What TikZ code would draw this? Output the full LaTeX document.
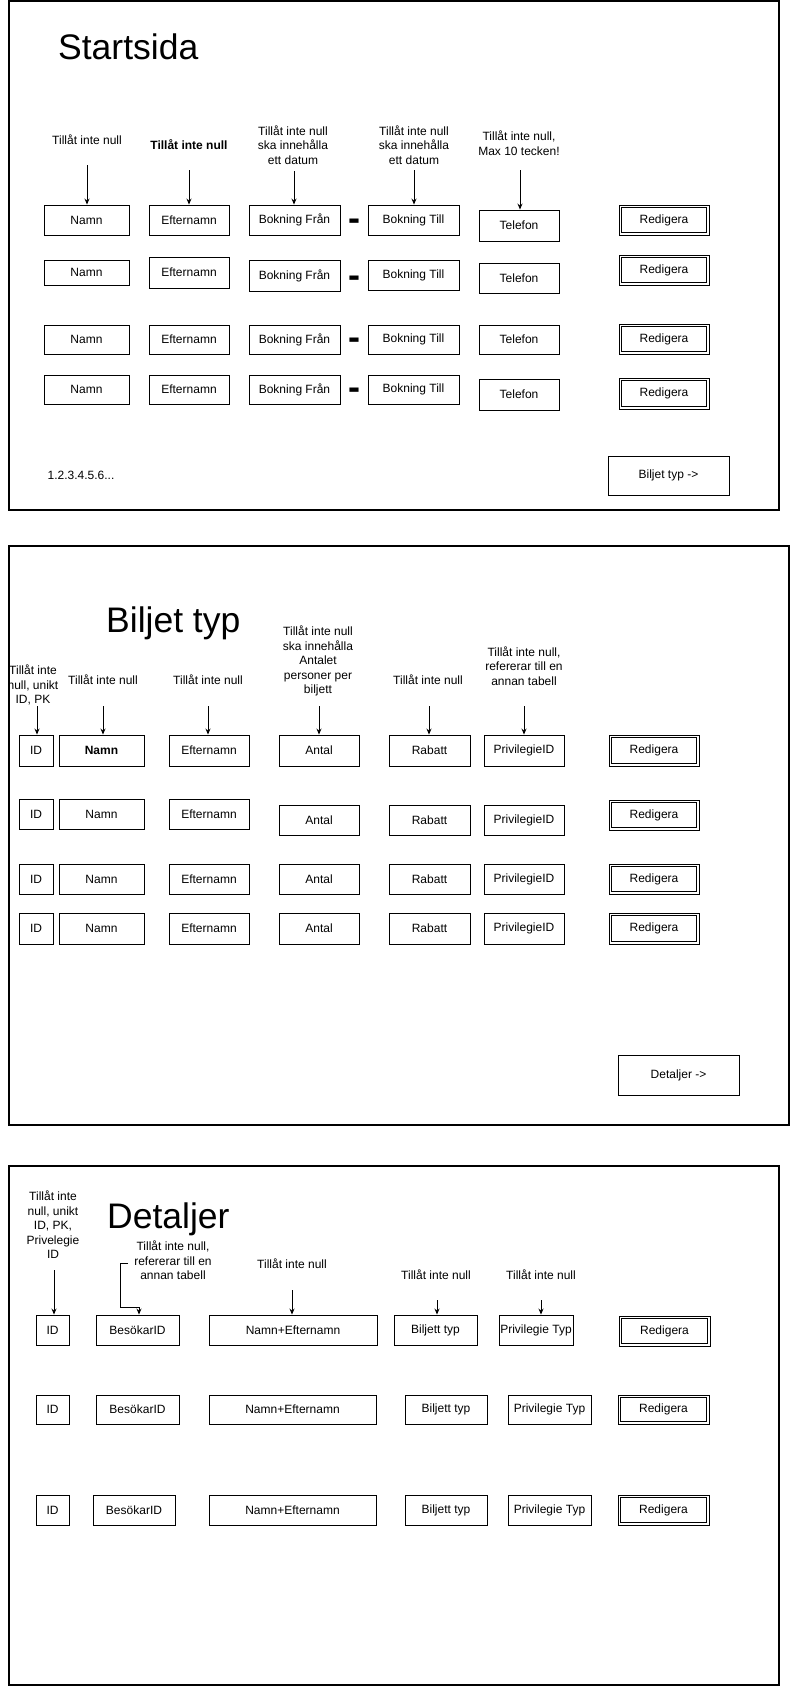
\documentclass[tikz,border=0pt]{standalone}
\usepackage{fontspec}
\setmainfont{Liberation Sans}
\usetikzlibrary{arrows.meta}
\newcommand\fs{\fontsize{12}{14.5}\selectfont}
\newcommand\mkbox[7][fld]{\node[#1, minimum width={(#5)-(#3)}, minimum height={(#6)-(#4)}] (#2) at ({((#3)+(#5))/2},{((#4)+(#6))/2}) {#7};}
\newcommand\mkbtn[6]{\mkbox[btn]{#1}{#2}{#3}{#4}{#5}{#6}%
  \node[innerbox, minimum width={(#4)-(#2)-4.4}, minimum height={(#5)-(#3)-4.4}] (#1i) at (#1.center) {};}
\tikzset{
  frame/.style={draw, line width=1.2pt},
  fld/.style={draw, line width=0.9pt, inner sep=0pt, font=\fs},
  btn/.style={draw, line width=0.8pt, inner sep=0pt, font=\fs},
  innerbox/.style={draw, line width=0.8pt, inner sep=0pt},
  lbl/.style={align=center, font=\fs, inner sep=0pt},
  ttl/.style={font=\fontsize{35.5}{40}\selectfont, anchor=base west, inner sep=0pt},
  arr/.style={-{Stealth[length=6pt,width=5pt]}, line width=0.9pt},
  sepdash/.style={font=\fontsize{36}{40}\selectfont\bfseries, inner sep=0pt}
}
\begin{document}
\begin{tikzpicture}[x=1pt,y=-1pt]
\useasboundingbox (0,0) rectangle (791,1689);
% ---------------- Frame 1 ----------------
\draw[frame] (9,1) rectangle (779,510);
\node[ttl] (t1) at (58,59) {Startsida};
\node[lbl] (l11) at (87,140) {Tillåt inte null};
\node[lbl] (l12) at (189,145) {\bfseries Tillåt inte null};
\node[lbl] (l13) at (293,145) {Tillåt inte null\\ska innehålla\\ett datum};
\node[lbl] (l14) at (414,145) {Tillåt inte null\\ska innehålla\\ett datum};
\node[lbl] (l15) at (519,143) {Tillåt inte null,\\Max 10 tecken!};
% row 1
\mkbox{a1}{44}{205}{129}{235}{Namn}
\mkbox{b1}{149}{205}{229}{235}{Efternamn}
\mkbox{c1}{249}{205}{340}{235}{Bokning Från}
\mkbox{d1}{368}{205}{459}{235}{Bokning Till}
\mkbox{e1}{479}{210}{559}{241}{Telefon}
\mkbtn{r1}{619}{205}{709}{235}{Redigera}
% row 2
\mkbox{a2}{44}{260}{129}{285}{Namn}
\mkbox{b2}{149}{257}{229}{288}{Efternamn}
\mkbox{c2}{249}{260}{340}{291}{Bokning Från}
\mkbox{d2}{368}{260}{459}{290}{Bokning Till}
\mkbox{e2}{479}{263}{559}{293}{Telefon}
\mkbtn{r2}{619}{255}{709}{285}{Redigera}
% row 3
\mkbox{a3}{44}{325}{129}{354}{Namn}
\mkbox{b3}{149}{325}{229}{354}{Efternamn}
\mkbox{c3}{249}{325}{340}{354}{Bokning Från}
\mkbox{d3}{368}{325}{459}{354}{Bokning Till}
\mkbox{e3}{479}{325}{559}{354}{Telefon}
\mkbtn{r3}{619}{324}{709}{354}{Redigera}
% row 4
\mkbox{a4}{44}{375}{129}{404}{Namn}
\mkbox{b4}{149}{375}{229}{404}{Efternamn}
\mkbox{c4}{249}{375}{340}{404}{Bokning Från}
\mkbox{d4}{368}{375}{459}{404}{Bokning Till}
\mkbox{e4}{479}{379}{559}{410}{Telefon}
\mkbtn{r4}{619}{378}{709}{409}{Redigera}
% dashes
\node[sepdash] (s1) at (354,224.4) {-};
\node[sepdash] (s2) at (354,281.4) {-};
\node[sepdash] (s3) at (354,343.4) {-};
\node[sepdash] (s4) at (354,393.4) {-};
% arrows
\coordinate (p11) at (87,165);
\coordinate (p12) at (189,170);
\coordinate (p13) at (294,171);
\coordinate (p14) at (414,170);
\coordinate (p15) at (520,170);
\draw[arr] (p11) -- (p11 |- a1.north);
\draw[arr] (p12) -- (p12 |- b1.north);
\draw[arr] (p13) -- (p13 |- c1.north);
\draw[arr] (p14) -- (p14 |- d1.north);
\draw[arr] (p15) -- (p15 |- e1.north);
\node[lbl] (pg) at (81,475) {1.2.3.4.5.6...};
\mkbox{nx1}{608}{456}{729}{495}{Biljet typ ->}
% ---------------- Frame 2 ----------------
\draw[frame] (9,546) rectangle (789,1125);
\node[ttl] (t2) at (106,632) {Biljet typ};
\node[lbl] (l21) at (33,685) {Tillåt inte\\null, unikt\\ID, PK};
\node[lbl] (l22) at (103,680) {Tillåt inte null};
\node[lbl] (l23) at (208,680) {Tillåt inte null};
\node[lbl] (l24) at (318,661) {Tillåt inte null\\ska innehålla\\Antalet\\personer per\\biljett};
\node[lbl] (l25) at (428,680) {Tillåt inte null};
\node[lbl] (l26) at (524,666) {Tillåt inte null,\\refererar till en\\annan tabell};
% row 1
\mkbox{f1}{19}{735}{53}{766}{ID}
\mkbox{g1}{59}{735}{144}{766}{\bfseries Namn}
\mkbox{h1}{169}{735}{249}{766}{Efternamn}
\mkbox{i1}{279}{735}{359}{766}{Antal}
\mkbox{j1}{389}{735}{470}{766}{Rabatt}
\mkbox{k1}{484}{735}{564}{766}{PrivilegieID}
\mkbtn{q1}{609}{735}{699}{766}{Redigera}
% row 2
\mkbox{f2}{19}{799}{53}{829}{ID}
\mkbox{g2}{59}{799}{144}{829}{Namn}
\mkbox{h2}{169}{799}{249}{829}{Efternamn}
\mkbox{i2}{279}{805}{359}{835}{Antal}
\mkbox{j2}{389}{805}{470}{835}{Rabatt}
\mkbox{k2}{484}{805}{564}{835}{PrivilegieID}
\mkbtn{q2}{609}{800}{699}{830}{Redigera}
% row 3
\mkbox{f3}{19}{864}{53}{894}{ID}
\mkbox{g3}{59}{864}{144}{894}{Namn}
\mkbox{h3}{169}{864}{249}{894}{Efternamn}
\mkbox{i3}{279}{864}{359}{894}{Antal}
\mkbox{j3}{389}{864}{470}{894}{Rabatt}
\mkbox{k3}{484}{864}{564}{894}{PrivilegieID}
\mkbtn{q3}{609}{864}{699}{894}{Redigera}
% row 4
\mkbox{f4}{19}{913}{53}{944}{ID}
\mkbox{g4}{59}{913}{144}{944}{Namn}
\mkbox{h4}{169}{913}{249}{944}{Efternamn}
\mkbox{i4}{279}{913}{359}{944}{Antal}
\mkbox{j4}{389}{913}{470}{944}{Rabatt}
\mkbox{k4}{484}{913}{564}{944}{PrivilegieID}
\mkbtn{q4}{609}{913}{699}{944}{Redigera}
% arrows
\coordinate (p21) at (37,706);
\coordinate (p22) at (103,706);
\coordinate (p23) at (208,706);
\coordinate (p24) at (319,706);
\coordinate (p25) at (429,706);
\coordinate (p26) at (524,706);
\draw[arr] (p21) -- (p21 |- f1.north);
\draw[arr] (p22) -- (p22 |- g1.north);
\draw[arr] (p23) -- (p23 |- h1.north);
\draw[arr] (p24) -- (p24 |- i1.north);
\draw[arr] (p25) -- (p25 |- j1.north);
\draw[arr] (p26) -- (p26 |- k1.north);
\mkbox{nx2}{618}{1055}{739}{1095}{Detaljer ->}
% ---------------- Frame 3 ----------------
\draw[frame] (9,1166) rectangle (779,1685);
\node[ttl] (t3) at (107,1228) {Detaljer};
\node[lbl] (l31) at (53,1225) {Tillåt inte\\null, unikt\\ID, PK,\\Privelegie\\ID};
\node[lbl] (l32) at (173,1260.5) {Tillåt inte null,\\refererar till en\\annan tabell};
\node[lbl] (l33) at (292,1264) {Tillåt inte null};
\node[lbl] (l34) at (436,1275) {Tillåt inte null};
\node[lbl] (l35) at (541,1275) {Tillåt inte null};
% row 1
\mkbox{u1}{36}{1315}{69}{1345}{ID}
\mkbox{v1}{96}{1315}{179}{1345}{BesökarID}
\mkbox{w1}{209}{1315}{377}{1345}{Namn+Efternamn}
\mkbox{x1}{394}{1315}{477}{1345}{Biljett typ}
\mkbox{y1}{499}{1315}{573}{1345}{Privilegie Typ}
\mkbtn{z1}{619}{1316}{710}{1346}{Redigera}
% row 2
\mkbox{u2}{36}{1395}{69}{1424}{ID}
\mkbox{v2}{96}{1395}{179}{1424}{BesökarID}
\mkbox{w2}{209}{1395}{376}{1424}{Namn+Efternamn}
\mkbox{x2}{405}{1395}{487}{1424}{Biljett typ}
\mkbox{y2}{508}{1395}{591}{1424}{Privilegie Typ}
\mkbtn{z2}{618}{1395}{709}{1424}{Redigera}
% row 3
\mkbox{u3}{36}{1495}{69}{1525}{ID}
\mkbox{v3}{93}{1495}{175}{1525}{BesökarID}
\mkbox{w3}{209}{1495}{376}{1525}{Namn+Efternamn}
\mkbox{x3}{405}{1495}{487}{1525}{Biljett typ}
\mkbox{y3}{508}{1495}{591}{1525}{Privilegie Typ}
\mkbtn{z3}{618}{1495}{709}{1525}{Redigera}
% arrows
\coordinate (p31) at (54,1270);
\coordinate (p32) at (128,1263);
\coordinate (p33) at (292,1290);
\coordinate (p34) at (437,1300);
\coordinate (p35) at (541,1300);
\draw[arr] (p31) -- (p31 |- u1.north);
\draw[arr] (p32) -- ++(-8,0) -- ++(0,44) -| ([xshift=1.5pt]v1.north);
\draw[arr] (p33) -- (p33 |- w1.north);
\draw[arr] (p34) -- (p34 |- x1.north);
\draw[arr] (p35) -- (p35 |- y1.north);
\end{tikzpicture}
\end{document}
